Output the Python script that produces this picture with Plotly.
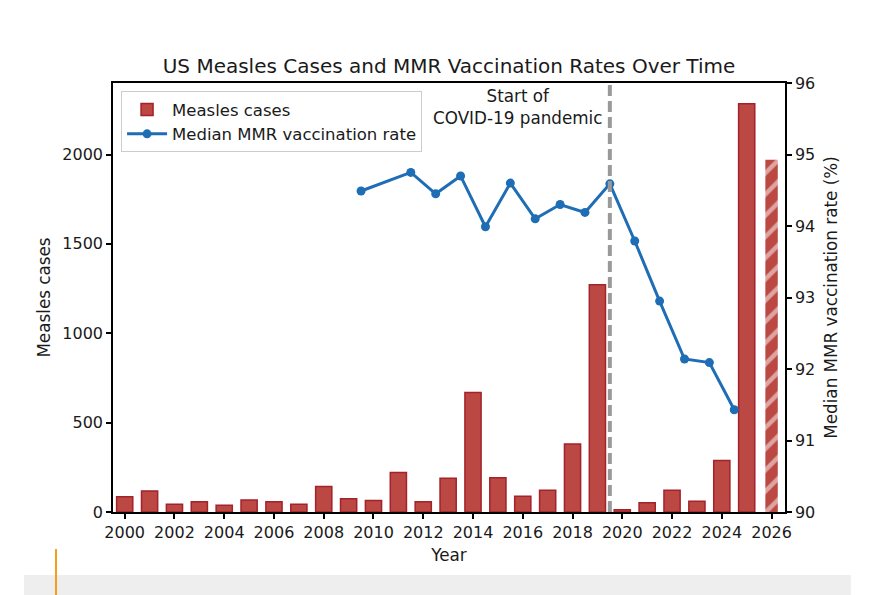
import plotly.graph_objects as go

# ---- data ----
years = list(range(2000, 2026))
measles_cases = [86, 118, 44, 57, 38, 67, 57, 44, 142, 74, 65, 221, 57, 189,
                 668, 191, 88, 121, 380, 1272, 13, 52, 121, 60, 288, 2284]
projection_year = [2026]
projection_cases = [1971]

vacc_x = [2009.5, 2011.5, 2012.5, 2013.5, 2014.5, 2015.5, 2016.5, 2017.5,
          2018.5, 2019.5, 2020.5, 2021.5, 2022.5, 2023.5, 2024.5]
vacc_rate = [94.49, 94.75, 94.45, 94.70, 93.99, 94.60, 94.10, 94.30,
             94.19, 94.59, 93.79, 92.95, 92.14, 92.09, 91.43]

covid_start = 2019.5
x_ticks = list(range(2000, 2027, 2))
y_ticks = [0, 500, 1000, 1500, 2000]
y2_ticks = [90, 91, 92, 93, 94, 95, 96]

FONT = "DejaVu Sans"
TXT = "#1a1a1a"
BAR_FILL = "#bb4843"
BAR_EDGE = "#a3222c"
LINE = "#1f6db4"
TICK_SIZE = 16
LABEL_SIZE = 16.8

fig = go.Figure()

fig.add_trace(go.Bar(
    x=years, y=measles_cases, width=0.65, name="Measles cases",
    marker=dict(color=BAR_FILL, line=dict(color=BAR_EDGE, width=1.5)),
    yaxis="y",
))
fig.add_trace(go.Bar(
    x=projection_year, y=projection_cases, width=0.5, showlegend=False,
    marker=dict(color=BAR_FILL, line=dict(width=0),
                pattern=dict(shape="/", fgcolor="white", bgcolor=BAR_FILL,
                             size=15, solidity=0.3)),
    yaxis="y",
))
fig.add_trace(go.Scatter(
    x=vacc_x, y=vacc_rate, mode="lines+markers", name="Median MMR vaccination rate",
    line=dict(color=LINE, width=3), marker=dict(color=LINE, size=9),
    yaxis="y2",
))

fig.add_shape(type="line", xref="x", yref="paper", x0=covid_start, x1=covid_start,
              y0=0, y1=1, line=dict(color="#9a9a9a", width=4, dash="11px,5px"))

fig.add_annotation(xref="x", yref="paper", x=covid_start - 0.2, y=0.998,
                   xanchor="right", yanchor="top", align="center", showarrow=False,
                   text="Start of<br>COVID-19 pandemic",
                   font=dict(family=FONT, size=LABEL_SIZE, color=TXT))

# page decoration below the chart
fig.add_shape(type="rect", xref="paper", yref="paper", x0=-0.1324, x1=1.098,
              y0=-0.25, y1=-0.1469, fillcolor="#eeeeee", line=dict(width=0), layer="below")
fig.add_shape(type="line", xref="paper", yref="paper", x0=-0.0848, x1=-0.0848,
              y0=-0.0862, y1=-0.25, line=dict(color="#f5a01a", width=2))

axis_common = dict(showline=True, linecolor="black", linewidth=1.5, ticks="outside",
                   ticklen=5, tickwidth=1.5, tickcolor="black", showgrid=False,
                   zeroline=False, tickfont=dict(family=FONT, size=TICK_SIZE, color=TXT))

fig.update_layout(
    width=896, height=595,
    margin=dict(l=105, r=119, t=75, b=91),
    paper_bgcolor="white", plot_bgcolor="white",
    barmode="overlay",
    font=dict(family=FONT, color=TXT),
    title=dict(text="US Measles Cases and MMR Vaccination Rates Over Time",
               x=0.5, xref="paper", xanchor="center", y=1 - 58 / 595,
               yref="container", yanchor="middle",
               font=dict(family=FONT, size=20, color=TXT)),
    xaxis=dict(range=[1999.53, 2026.54], tickvals=x_ticks, mirror=True,
               title=dict(text="Year", standoff=8,
                          font=dict(family=FONT, size=LABEL_SIZE, color=TXT)),
               **axis_common),
    yaxis=dict(range=[0, 2400], tickvals=y_ticks,
               title=dict(text="Measles cases", standoff=7,
                          font=dict(family=FONT, size=LABEL_SIZE, color=TXT)),
               **axis_common),
    yaxis2=dict(range=[90, 96], tickvals=y2_ticks, overlaying="y", side="right",
                title=dict(text="Median MMR vaccination rate (%)", standoff=11,
                           font=dict(family=FONT, size=LABEL_SIZE, color=TXT)),
                **axis_common),
    legend=dict(x=0.012, y=0.981, xanchor="left", yanchor="top",
                bgcolor="rgba(255,255,255,0.85)", bordercolor="#cccccc", borderwidth=1,
                font=dict(family=FONT, size=16.5, color=TXT), tracegroupgap=0,
                itemwidth=40),
    showlegend=True,
)

fig.write_html("out.html")
